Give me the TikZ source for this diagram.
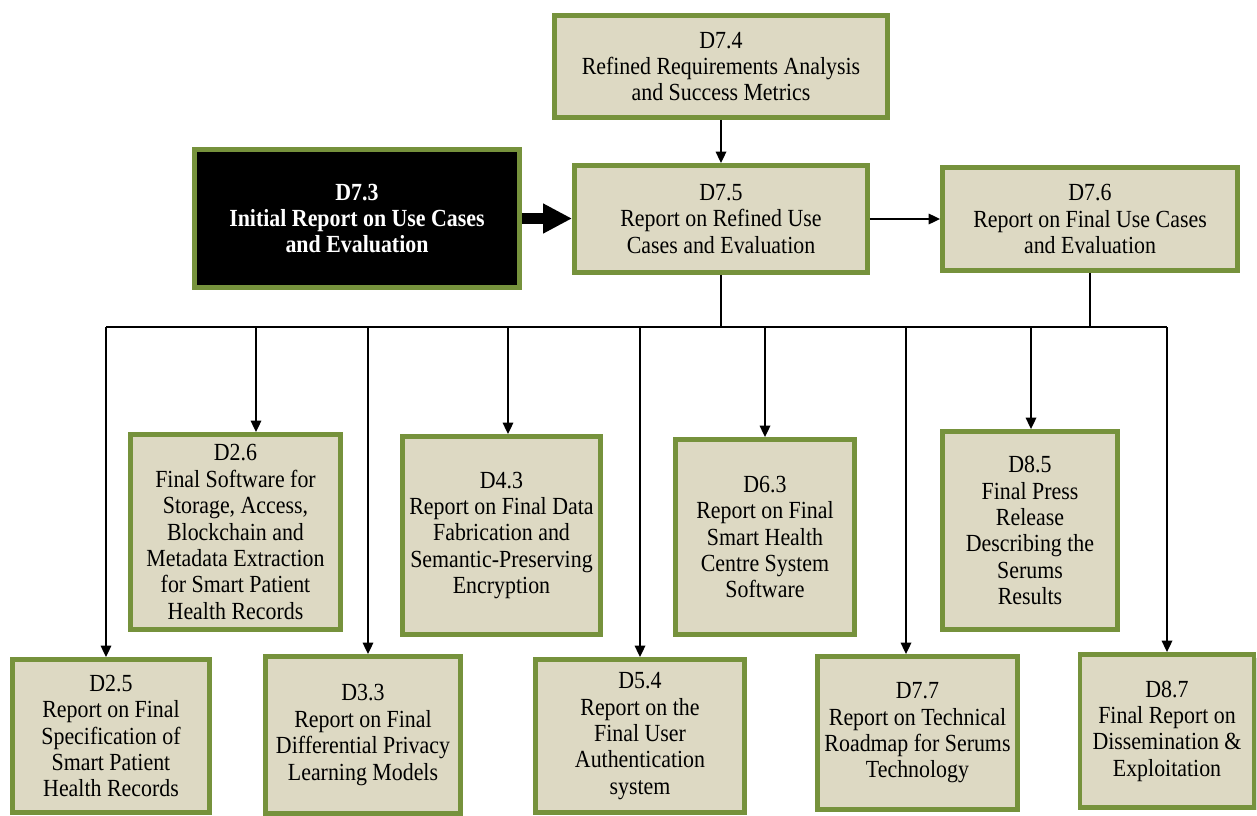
\documentclass[tikz,border=0pt]{standalone}
\usepackage{fontspec}
\setmainfont{Liberation Serif}[FakeStretch=0.89]
\usetikzlibrary{arrows.meta,shadows}

\definecolor{delivfill}{HTML}{DDD9C3}
\definecolor{delivline}{HTML}{76923C}

\tikzset{
	deliv/.style={draw=delivline, fill=delivfill, line width=2.8pt, inner sep=0pt,
		align=center, font=\fontsize{14}{15}\selectfont,
		drop shadow={opacity=0.3, shadow xshift=0.05cm, shadow yshift=-0.06cm}},
	delivcur/.style={deliv, fill=black, text=white,
		font=\fontsize{14}{15}\selectfont\bfseries},
	link/.style={line width=0.9pt, -{Triangle[length=6.5pt,width=6pt]}},
	biglink/.style={line width=6.5pt, -{Triangle[length=0.58cm,width=0.56cm]}},
}

\begin{document}
\begin{tikzpicture}[x=0.02cm, y=-0.02cm]

% parameters %{{{2

	\def\busy{327}

% frame %{{{2

	\useasboundingbox (0,0) rectangle (1257,815);
	\clip (0,0) rectangle (1257,815);

% upper row %{{{2

	\node[deliv, minimum width=6.66cm, minimum height=2.04cm] (D74) at (721,66.5)
		{D7.4\\Refined Requirements Analysis\\and Success Metrics};

	\node[delivcur, minimum width=6.50cm, minimum height=2.76cm] (D73) at (357,218.5)
		{D7.3\\Initial Report on Use Cases\\and Evaluation};

	\node[deliv, minimum width=5.86cm, minimum height=2.14cm] (D75) at (721,219)
		{D7.5\\Report on Refined Use\\Cases and Evaluation};

	\node[deliv, minimum width=5.90cm, minimum height=2.06cm] (D76) at (1090,219)
		{D7.6\\Report on Final Use Cases\\and Evaluation};

% middle row %{{{2

	\node[deliv, minimum width=4.20cm, minimum height=3.90cm] (D26) at (235.5,532)
		{D2.6\\Final Software for\\Storage, Access,\\Blockchain and\\Metadata Extraction\\for Smart Patient\\Health Records};

	\node[deliv, minimum width=3.96cm, minimum height=3.96cm] (D43) at (501.5,535.5)
		{D4.3\\Report on Final Data\\Fabrication and\\Semantic-Preserving\\Encryption};

	\node[deliv, minimum width=3.58cm, minimum height=3.90cm] (D63) at (765,537)
		{D6.3\\Report on Final\\Smart Health\\Centre System\\Software};

	\node[deliv, minimum width=3.50cm, minimum height=3.96cm] (D85) at (1030,530.5)
		{D8.5\\Final Press\\Release\\Describing the\\Serums\\Results};

% lower row %{{{2

	\node[deliv, minimum width=3.94cm, minimum height=3.06cm] (D25) at (111,736)
		{D2.5\\Report on Final\\Specification of\\Smart Patient\\Health Records};

	\node[deliv, minimum width=3.90cm, minimum height=3.14cm] (D33) at (363,735)
		{D3.3\\Report on Final\\Differential Privacy\\Learning Models};

	\node[deliv, minimum width=4.18cm, minimum height=3.06cm] (D54) at (640,736)
		{D5.4\\Report on the\\Final User\\Authentication\\system};

	\node[deliv, minimum width=4.00cm, minimum height=3.06cm] (D77) at (917.5,733)
		{D7.7\\Report on Technical\\Roadmap for Serums\\Technology};

	\node[deliv, minimum width=3.48cm, minimum height=3.06cm] (D87) at (1167,731)
		{D8.7\\Final Report on\\Dissemination \&\\Exploitation};

% connectors %{{{2

	\draw[link] (D74.south) -- (D75.north);
	\draw[biglink] (D73.east) -- (D73.east -| D75.west);
	\draw[link] (D75.east) -- (D75.east -| D76.west);

	\foreach \nm/\xx in {D25/106, D26/256, D33/368, D43/508, D54/640,
		D63/765, D77/906, D85/1031, D87/1167} {
		\coordinate (b\nm) at (\xx,\busy);
		\draw[link] (b\nm) -- (b\nm |- \nm.north);
	}

	\draw[line width=0.9pt] (bD25) -- (bD87);
	\draw[line width=0.9pt] (D75.south) -- (D75.south |- bD25);
	\draw[line width=0.9pt] (D76.south) -- (D76.south |- bD25);

% closing %{{{2

\end{tikzpicture}
\end{document}
